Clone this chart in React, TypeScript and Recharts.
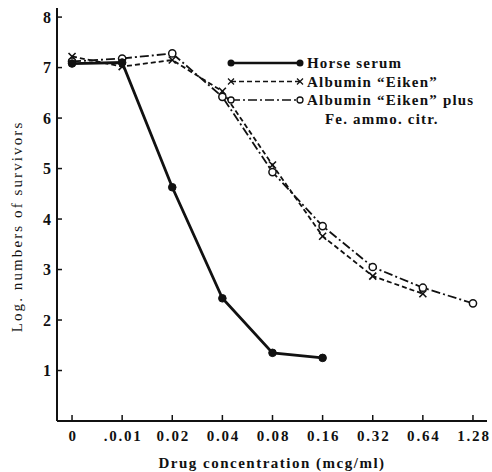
import React from "react";
import { LineChart, Line, XAxis, YAxis, Legend } from "recharts";

const categories = ["0", ".0.01", "0.02", "0.04", "0.08", "0.16", "0.32", "0.64", "1.28"];
const horseSerum: (number | null)[] = [7.08, 7.1, 4.63, 2.43, 1.35, 1.25, null, null, null];
const albuminEiken: (number | null)[] = [7.22, 7.02, 7.15, 6.53, 5.07, 3.66, 2.87, 2.52, null];
const albuminPlus: (number | null)[] = [7.12, 7.18, 7.28, 6.42, 4.93, 3.86, 3.05, 2.64, 2.33];
const yTicks = [1, 2, 3, 4, 5, 6, 7, 8];

const data = categories.map((c, i) => ({
  idx: i,
  label: c,
  horse: horseSerum[i],
  eiken: albuminEiken[i],
  plus: albuminPlus[i],
}));

const FONT = "'Liberation Serif', 'DejaVu Serif', serif";
const INK = "#111";

const XMark = (props: any) => {
  const { cx, cy } = props;
  if (cx == null || cy == null || props.value == null) return null;
  const s = 3.5;
  return (
    <g>
      <line x1={cx - s} y1={cy - s} x2={cx + s} y2={cy + s} stroke={INK} strokeWidth={1.6} />
      <line x1={cx - s} y1={cy + s} x2={cx + s} y2={cy - s} stroke={INK} strokeWidth={1.6} />
    </g>
  );
};

const OMark = (props: any) => {
  const { cx, cy } = props;
  if (cx == null || cy == null || props.value == null) return null;
  return <circle cx={cx} cy={cy} r={3.6} fill="#fff" stroke={INK} strokeWidth={1.5} />;
};

const DotMark = (props: any) => {
  const { cx, cy } = props;
  if (cx == null || cy == null || props.value == null) return null;
  return <circle cx={cx} cy={cy} r={3.8} fill={INK} stroke={INK} strokeWidth={1} />;
};

const YTick = (props: any) => {
  const { x, y, payload } = props;
  const m = 6;
  return (
    <g>
      <line x1={x + m} y1={y} x2={x + m + 5} y2={y} stroke={INK} strokeWidth={1.5} />
      <text x={x} y={y} dy={5.5} textAnchor="end" fontFamily={FONT} fontWeight="bold" fontSize={16} fill={INK}>
        {payload.value}
      </text>
    </g>
  );
};

const XTick = (props: any) => {
  const { x, y, payload } = props;
  const m = 10;
  return (
    <g>
      <line x1={x} y1={y - m} x2={x} y2={y - m - 6} stroke={INK} strokeWidth={1.5} />
      <text x={x + 1} y={y} dy={10} textAnchor="middle" fontFamily={FONT} fontWeight="bold" fontSize={15} letterSpacing={1.8} fill={INK}>
        {categories[payload.value]}
      </text>
    </g>
  );
};

const YLabel = (props: any) => {
  const vb = props.viewBox || {};
  const cy = (vb.y ?? 8) + (vb.height ?? 413) / 2 + 12;
  const cx = 17;
  return (
    <text
      x={cx}
      y={cy}
      transform={`rotate(-90, ${cx}, ${cy})`}
      textAnchor="middle"
      dominantBaseline="central"
      fontFamily={FONT}
      fontSize={15}
      letterSpacing={2.1}
      fill={INK}
    >
      Log. numbers of survivors
    </text>
  );
};

const LegendContent = () => {
  const rows = [
    { name: "Horse serum", dash: undefined, w: 2.6, mark: "dot" },
    { name: "Albumin \u201CEiken\u201D", dash: "5 3", w: 1.6, mark: "x" },
    { name: "Albumin \u201CEiken\u201D plus", dash: "9 3 2 3", w: 1.6, mark: "o" },
  ];
  const drawMark = (m: string, cx: number, cy: number, k: string) => {
    if (m === "dot") return <circle key={k} cx={cx} cy={cy} r={3.5} fill={INK} />;
    if (m === "x")
      return (
        <g key={k}>
          <line x1={cx - 3} y1={cy - 3} x2={cx + 3} y2={cy + 3} stroke={INK} strokeWidth={1.3} />
          <line x1={cx - 3} y1={cy + 3} x2={cx + 3} y2={cy - 3} stroke={INK} strokeWidth={1.3} />
        </g>
      );
    return <circle key={k} cx={cx} cy={cy} r={3} fill="#fff" stroke={INK} strokeWidth={1.3} />;
  };
  return (
    <svg width={260} height={80} style={{ display: "block" }}>
      {rows.map((r, i) => {
        const cy = 8 + i * 18.5;
        return (
          <g key={r.name}>
            <line x1={11} y1={cy} x2={80} y2={cy} stroke={INK} strokeWidth={r.w} strokeDasharray={r.dash} />
            {drawMark(r.mark, 11, cy, "a")}
            {drawMark(r.mark, 80, cy, "b")}
            <text x={87} y={cy} dy={5} fontFamily={FONT} fontWeight="bold" fontSize={15} letterSpacing={1.2} fill={INK}>
              {r.name}
            </text>
          </g>
        );
      })}
      <text x={105} y={8 + 3 * 18.5} dy={5} fontFamily={FONT} fontWeight="bold" fontSize={15} letterSpacing={1.2} fill={INK}>
        Fe. ammo. citr.
      </text>
    </svg>
  );
};

export default function App() {
  return (
    <div style={{ position: "absolute", left: 0, top: 0, width: 492, height: 472, background: "#fff" }}>
      <LineChart width={492} height={472} data={data} margin={{ top: 8, right: 5, bottom: 0, left: 0 }}>
        <XAxis
          type="number"
          dataKey="idx"
          domain={[-0.3, 8.28]}
          ticks={[0, 1, 2, 3, 4, 5, 6, 7, 8]}
          tickSize={0}
          tickMargin={10}
          tick={<XTick />}
          height={51}
          stroke={INK}
          strokeWidth={2}
          label={{
            value: "Drug concentration (mcg/ml)",
            position: "insideBottom",
            offset: 4,
            fontFamily: FONT,
            fontWeight: "bold",
            fontSize: 15,
            letterSpacing: 1.5,
            fill: INK,
          }}
        />
        <YAxis
          type="number"
          domain={[0, 8.18]}
          ticks={yTicks}
          width={57}
          tickSize={0}
          tickMargin={6}
          tick={<YTick />}
          stroke={INK}
          strokeWidth={2}
          label={<YLabel />}
        />
        <Legend
          verticalAlign="middle"
          align="center"
          layout="vertical"
          content={<LegendContent />}
          wrapperStyle={{ position: "absolute", left: 220, top: 55, width: 260 }}
        />
        <Line
          dataKey="eiken"
          stroke={INK}
          strokeWidth={1.8}
          strokeDasharray="5 3"
          dot={<XMark />}
          isAnimationActive={false}
          legendType="none"
        />
        <Line
          dataKey="plus"
          stroke={INK}
          strokeWidth={1.8}
          strokeDasharray="9 3 2 3"
          dot={<OMark />}
          isAnimationActive={false}
          legendType="none"
        />
        <Line
          dataKey="horse"
          stroke={INK}
          strokeWidth={2.8}
          dot={<DotMark />}
          isAnimationActive={false}
          legendType="none"
        />
      </LineChart>
    </div>
  );
}
